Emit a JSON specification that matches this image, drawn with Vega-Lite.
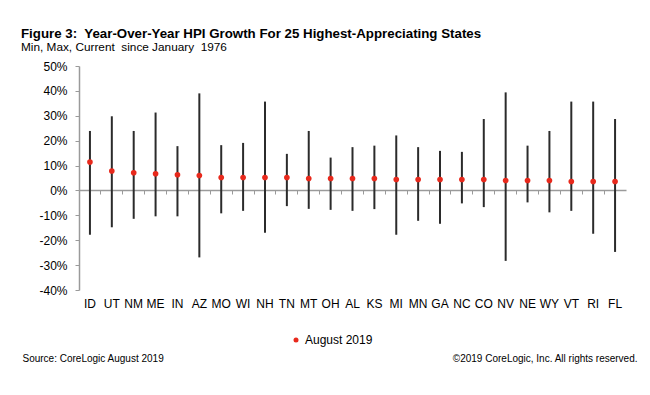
{
  "$schema": "https://vega.github.io/schema/vega-lite/v6.json",
  "width": 547,
  "height": 224,
  "autosize": "none",
  "padding": {"left": 79, "top": 66, "right": 24, "bottom": 105},
  "background": "white",
  "config": {
    "font": "Liberation Sans",
    "view": {"stroke": null},
    "axisY": {"labelOverlap": false}
  },
  "title": {
    "text": "Figure 3:\u00a0 Year-Over-Year HPI Growth For 25 Highest-Appreciating States",
    "subtitle": "Min, Max, Current\u00a0 since January\u00a0 1976",
    "anchor": "start",
    "frame": "group",
    "dx": -58,
    "fontSize": 13.3,
    "fontWeight": "bold",
    "color": "#000000",
    "subtitleFontSize": 11.8,
    "subtitleColor": "#000000",
    "subtitlePadding": 2,
    "offset": 6
  },
  "data": {
    "values": [
      {"state": "ID", "min": -17.8, "max": 23.9, "cur": 11.4},
      {"state": "UT", "min": -14.8, "max": 29.8, "cur": 7.8},
      {"state": "NM", "min": -11.4, "max": 23.9, "cur": 7.1},
      {"state": "ME", "min": -10.4, "max": 31.3, "cur": 6.7},
      {"state": "IN", "min": -10.4, "max": 17.8, "cur": 6.3},
      {"state": "AZ", "min": -26.9, "max": 39.0, "cur": 6.0},
      {"state": "MO", "min": -9.2, "max": 18.2, "cur": 5.2},
      {"state": "WI", "min": -8.2, "max": 19.1, "cur": 5.2},
      {"state": "NH", "min": -17.0, "max": 35.7, "cur": 5.2},
      {"state": "TN", "min": -6.3, "max": 14.7, "cur": 5.2},
      {"state": "MT", "min": -7.4, "max": 23.9, "cur": 4.8},
      {"state": "OH", "min": -7.8, "max": 13.2, "cur": 4.8},
      {"state": "AL", "min": -8.2, "max": 17.4, "cur": 4.8},
      {"state": "KS", "min": -7.5, "max": 18.0, "cur": 4.8},
      {"state": "MI", "min": -17.8, "max": 22.1, "cur": 4.4},
      {"state": "MN", "min": -12.2, "max": 17.4, "cur": 4.4},
      {"state": "GA", "min": -13.4, "max": 15.9, "cur": 4.4},
      {"state": "NC", "min": -5.2, "max": 15.5, "cur": 4.4},
      {"state": "CO", "min": -6.7, "max": 28.7, "cur": 4.4},
      {"state": "NV", "min": -28.3, "max": 39.4, "cur": 4.0},
      {"state": "NE", "min": -4.8, "max": 18.0, "cur": 4.0},
      {"state": "WY", "min": -8.8, "max": 23.9, "cur": 4.0},
      {"state": "VT", "min": -8.2, "max": 35.7, "cur": 3.6},
      {"state": "RI", "min": -17.4, "max": 35.7, "cur": 3.6},
      {"state": "FL", "min": -24.7, "max": 28.7, "cur": 3.6}
    ]
  },
  "encoding": {
    "x": {
      "field": "state",
      "type": "nominal",
      "sort": null,
      "scale": {"paddingInner": 0, "paddingOuter": 0},
      "axis": {
        "title": "Source: CoreLogic August 2019",
        "titleX": -57,
        "titleY": 168,
        "titleAlign": "left",
        "titleBaseline": "middle",
        "titleFontSize": 10,
        "titleFontWeight": "normal",
        "titleColor": "#000000",
        "offset": -100,
        "bandPosition": 0,
        "labelAngle": 0,
        "labelFontSize": 12,
        "labelColor": "#000000",
        "labelPadding": 104,
        "labelOverlap": false,
        "domainColor": "#9a9a9a",
        "domainWidth": 1.5,
        "tickColor": "#9a9a9a",
        "tickSize": 4,
        "grid": false
      }
    }
  },
  "layer": [
    {
      "mark": {"type": "rule", "color": "#2b2b2b", "strokeWidth": 2},
      "encoding": {
        "y": {
          "field": "min",
          "type": "quantitative",
          "scale": {"domain": [-40, 50], "nice": false},
          "axis": {
            "title": "©2019 CoreLogic, Inc. All rights reserved.",
            "titleAngle": 0,
            "titleX": 558,
            "titleY": 292,
            "titleAlign": "right",
            "titleBaseline": "middle",
            "titleFontSize": 10,
            "titleFontWeight": "normal",
            "titleColor": "#000000",
            "values": [-40, -30, -20, -10, 0, 10, 20, 30, 40, 50],
            "labelExpr": "datum.value + '%'",
            "labelOverlap": false,
            "labelFontSize": 12,
            "labelColor": "#000000",
            "labelPadding": 8,
            "domainColor": "#9a9a9a",
            "domainWidth": 1.5,
            "tickColor": "#9a9a9a",
            "tickSize": 4,
            "grid": false
          }
        },
        "y2": {"field": "max"}
      }
    },
    {
      "mark": {"type": "point", "filled": true, "opacity": 1, "shape": "circle", "size": 32},
      "encoding": {
        "y": {
          "field": "cur",
          "type": "quantitative",
          "scale": {"domain": [-40, 50], "nice": false},
          "axis": {
            "title": "©2019 CoreLogic, Inc. All rights reserved.",
            "titleAngle": 0,
            "titleX": 558,
            "titleY": 292,
            "titleAlign": "right",
            "titleBaseline": "middle",
            "titleFontSize": 10,
            "titleFontWeight": "normal",
            "titleColor": "#000000",
            "values": [-40, -30, -20, -10, 0, 10, 20, 30, 40, 50],
            "labelExpr": "datum.value + '%'",
            "labelOverlap": false,
            "labelFontSize": 12,
            "labelColor": "#000000",
            "labelPadding": 8,
            "domainColor": "#9a9a9a",
            "domainWidth": 1.5,
            "tickColor": "#9a9a9a",
            "tickSize": 4,
            "grid": false
          }
        },
        "color": {
          "datum": "August 2019",
          "type": "nominal",
          "scale": {"range": ["#e8291c"]},
          "legend": {
            "title": null,
            "orient": "none",
            "legendX": 211,
            "legendY": 268,
            "labelFontSize": 12,
            "labelColor": "#000000",
            "symbolSize": 25,
            "symbolType": "circle",
            "labelOffset": 3
          }
        }
      }
    }
  ]
}
